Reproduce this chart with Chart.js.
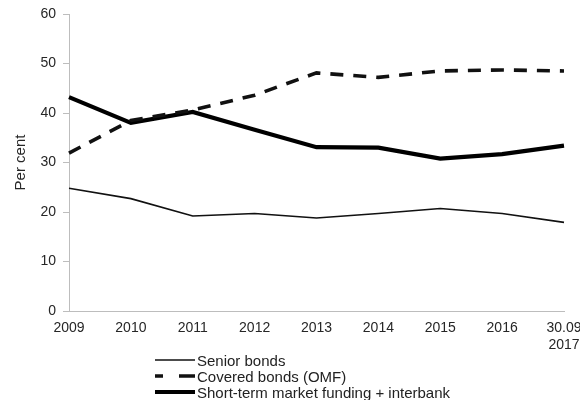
<!DOCTYPE html>
<html>
<head>
<meta charset="utf-8">
<script src="https://cdn.jsdelivr.net/npm/chart.js@4/dist/chart.umd.min.js"></script>
<style>
  html, body { margin: 0; padding: 0; background: #fff; }
  #wrap { position: relative; width: 580px; height: 400px; }
  #legend { position: absolute; left: 155px; top: 352px; font-family: "Liberation Sans", Arial, sans-serif; font-size: 15px; color: #222; }
  #legend .row { display: flex; align-items: center; height: 16px; }
  #legend svg { display: block; margin-right: 2px; }
</style>
</head>
<body>
<div id="wrap">
  <canvas id="c" width="580" height="400"></canvas>
  <div id="legend"></div>
</div>
<script>
// Funding sources, share of total market funding
const years = ['2009', '2010', '2011', '2012', '2013', '2014', '2015', '2016', ['30.09', '2017']];
const seniorBonds = [24.8, 22.7, 19.2, 19.7, 18.8, 19.7, 20.7, 19.7, 17.9];
const coveredBonds = [31.9, 38.5, 40.6, 43.6, 48.1, 47.2, 48.5, 48.7, 48.5];
const shortTerm = [43.2, 38.0, 40.2, 36.6, 33.1, 33.0, 30.8, 31.7, 33.4];
const yTicks = [0, 10, 20, 30, 40, 50, 60];

const textColor = '#262626';
const axisColor = '#bdbdbd';
const font = { family: '"Liberation Sans", Arial, sans-serif', size: 14 };

const datasets = [
  { label: 'Senior bonds', data: seniorBonds, borderColor: '#111', borderWidth: 1.6, borderDash: [], legendDash: '' },
  { label: 'Covered bonds (OMF)', data: coveredBonds, borderColor: '#111', borderWidth: 3.6, borderDash: [13, 10], legendDash: '8 16 16' },
  { label: 'Short-term market funding + interbank', data: shortTerm, borderColor: '#000', borderWidth: 4.2, borderDash: [], legendDash: '' }
].map(d => Object.assign(d, { pointRadius: 0, tension: 0, fill: false, borderCapStyle: 'butt', borderJoinStyle: 'miter' }));

new Chart(document.getElementById('c'), {
  type: 'line',
  data: { labels: years, datasets },
  options: {
    responsive: false,
    animation: false,
    layout: { padding: { top: 14, right: 16, left: 12, bottom: 0 } },
    plugins: { legend: { display: false }, tooltip: { enabled: false } },
    scales: {
      x: {
        offset: false,
        grid: { display: false, drawOnChartArea: false, drawTicks: true, tickLength: 5, color: axisColor },
        border: { color: axisColor, width: 1 },
        ticks: { color: textColor, font, maxRotation: 0, autoSkip: false, padding: 4 },
        afterFit: s => { s.height = 89; s.paddingLeft = 0; s.paddingRight = 0; }
      },
      y: {
        min: 0, max: 60,
        afterBuildTicks: s => { s.ticks = yTicks.map(v => ({ value: v })); },
        grid: { display: true, drawOnChartArea: false, drawTicks: true, tickLength: 6, color: axisColor },
        border: { color: axisColor, width: 1 },
        ticks: { color: textColor, font, padding: 7 },
        title: { display: true, text: 'Per cent', color: textColor, font: { family: font.family, size: 15 }, padding: { top: 0, bottom: 4 } },
        afterFit: s => { s.width = 57; s.paddingTop = 0; s.paddingBottom = 0; }
      }
    }
  }
});

// Legend stacked below the x axis, built from the dataset styles
const legend = document.getElementById('legend');
datasets.forEach(d => {
  const row = document.createElement('div');
  row.className = 'row';
  const ns = 'http://www.w3.org/2000/svg';
  const svg = document.createElementNS(ns, 'svg');
  svg.setAttribute('width', '40');
  svg.setAttribute('height', '10');
  const ln = document.createElementNS(ns, 'line');
  ln.setAttribute('x1', '0'); ln.setAttribute('x2', '40');
  ln.setAttribute('y1', '5'); ln.setAttribute('y2', '5');
  ln.setAttribute('stroke', d.borderColor);
  ln.setAttribute('stroke-width', String(d.borderWidth));
  if (d.legendDash) ln.setAttribute('stroke-dasharray', d.legendDash);
  svg.appendChild(ln);
  const span = document.createElement('span');
  span.textContent = d.label;
  row.appendChild(svg);
  row.appendChild(span);
  legend.appendChild(row);
});
</script>
</body>
</html>
